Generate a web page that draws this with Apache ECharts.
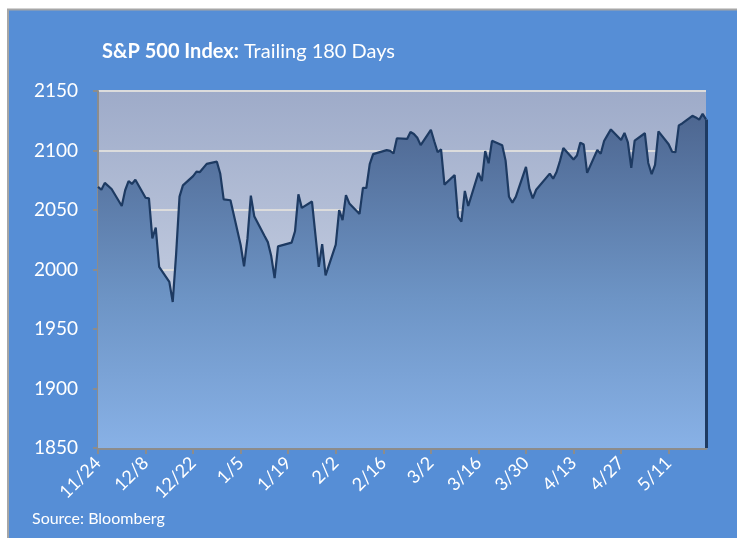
<!DOCTYPE html>
<html>
<head>
<meta charset="utf-8">
<title>S&amp;P 500 Index: Trailing 180 Days</title>
<script src="https://cdn.jsdelivr.net/npm/echarts@6/dist/echarts.min.js"></script>
<style>
  html, body { margin: 0; padding: 0; background: #fff; }
  #chart { width: 737px; height: 538px; }
</style>
</head>
<body>
<div id="chart"></div>
<script>
// trading days shown on the chart (date axis, 180 calendar days)
const startDate = '2014-11-24'
const dates = [
  '2014-11-24', '2014-11-25', '2014-11-26', '2014-11-28',
  '2014-12-01', '2014-12-02', '2014-12-03', '2014-12-04', '2014-12-05', '2014-12-08', '2014-12-09', '2014-12-10',
  '2014-12-11', '2014-12-12', '2014-12-15', '2014-12-16', '2014-12-17', '2014-12-18', '2014-12-19', '2014-12-22',
  '2014-12-23', '2014-12-24', '2014-12-26', '2014-12-29', '2014-12-30', '2014-12-31',
  '2015-01-02', '2015-01-05', '2015-01-06', '2015-01-07', '2015-01-08', '2015-01-09', '2015-01-12', '2015-01-13',
  '2015-01-14', '2015-01-15', '2015-01-16', '2015-01-20', '2015-01-21', '2015-01-22', '2015-01-23', '2015-01-26',
  '2015-01-27', '2015-01-28', '2015-01-29', '2015-01-30',
  '2015-02-02', '2015-02-03', '2015-02-04', '2015-02-05', '2015-02-06', '2015-02-09', '2015-02-10', '2015-02-11',
  '2015-02-12', '2015-02-13', '2015-02-17', '2015-02-18', '2015-02-19', '2015-02-20', '2015-02-23', '2015-02-24',
  '2015-02-25', '2015-02-26', '2015-02-27',
  '2015-03-02', '2015-03-03', '2015-03-04', '2015-03-05', '2015-03-06', '2015-03-09', '2015-03-10', '2015-03-11',
  '2015-03-12', '2015-03-13', '2015-03-16', '2015-03-17', '2015-03-18', '2015-03-19', '2015-03-20', '2015-03-23',
  '2015-03-24', '2015-03-25', '2015-03-26', '2015-03-27', '2015-03-30', '2015-03-31',
  '2015-04-01', '2015-04-02', '2015-04-06', '2015-04-07', '2015-04-08', '2015-04-09', '2015-04-10', '2015-04-13',
  '2015-04-14', '2015-04-15', '2015-04-16', '2015-04-17', '2015-04-20', '2015-04-21', '2015-04-22', '2015-04-23',
  '2015-04-24', '2015-04-27', '2015-04-28', '2015-04-29', '2015-04-30',
  '2015-05-01', '2015-05-04', '2015-05-05', '2015-05-06', '2015-05-07', '2015-05-08', '2015-05-11', '2015-05-12',
  '2015-05-13', '2015-05-14', '2015-05-15', '2015-05-18', '2015-05-19', '2015-05-20', '2015-05-21', '2015-05-22'
]
const closes = [
  2069.4, 2067.0, 2072.8, 2067.6,
  2053.4, 2066.6, 2074.3, 2071.9, 2075.4, 2060.3, 2059.8, 2026.1,
  2035.3, 2002.3, 1989.6, 1972.7, 2012.9, 2061.2, 2070.7, 2078.5,
  2082.2, 2081.9, 2088.8, 2090.6, 2080.4, 2058.9,
  2058.2, 2020.6, 2002.6, 2025.9, 2062.1, 2044.8, 2028.3, 2023.0,
  2011.3, 1992.7, 2019.4, 2022.6, 2032.1, 2063.2, 2051.8, 2057.1,
  2029.6, 2002.2, 2021.3, 1995.0,
  2020.9, 2050.0, 2041.5, 2062.5, 2055.5, 2046.7, 2068.6, 2068.5,
  2088.5, 2097.0, 2100.3, 2099.7, 2097.5, 2110.3, 2109.7, 2115.5,
  2113.9, 2110.7, 2104.5,
  2117.4, 2107.8, 2098.5, 2101.0, 2071.3, 2079.4, 2044.2, 2040.2,
  2066.0, 2053.4, 2081.2, 2074.3, 2099.5, 2089.3, 2108.1, 2104.4,
  2091.5, 2061.1, 2056.2, 2061.0, 2086.2, 2067.9,
  2059.7, 2067.0, 2080.6, 2076.3, 2081.9, 2091.2, 2102.1, 2092.4,
  2095.8, 2106.6, 2105.0, 2081.2, 2100.4, 2097.3, 2108.0, 2112.9,
  2117.7, 2108.9, 2114.8, 2106.9, 2085.5,
  2108.3, 2114.5, 2089.5, 2080.2, 2088.0, 2116.1, 2105.3, 2099.1,
  2098.5, 2121.1, 2122.7, 2129.2, 2127.8, 2125.9, 2130.8, 2126.1
]
// x tick labels, one every 14 days from the start
const tickLabels = ['11/24', '12/8', '12/22', '1/5', '1/19', '2/2', '2/16', '3/2', '3/16', '3/30', '4/13', '4/27', '5/11']
const yTicks = [1850, 1900, 1950, 2000, 2050, 2100, 2150]

const DAY = 86400000
const t0 = Date.parse(startDate)
const dayOf = (d) => Math.round((Date.parse(d) - t0) / DAY)
const seriesData = dates.map((d, i) => [dayOf(d), closes[i]])
const lastDay = dayOf(dates[dates.length - 1])
const tickDays = tickLabels.map((_, i) => i * 14)

const font = 'Lato, "Open Sans", sans-serif'

const chart = echarts.init(document.getElementById('chart'), null, { renderer: 'canvas' })

chart.setOption({
  animation: false,
  backgroundColor: '#ffffff',
  graphic: [
    {
      type: 'rect',
      z: -10,
      silent: true,
      shape: { x: 8, y: 9.5, width: 740, height: 540 },
      style: { fill: '#568ed6', stroke: '#a6a6a6', lineWidth: 2 }
    },
    {
      type: 'text',
      left: 32,
      top: 511,
      style: { text: 'Source: Bloomberg', fill: '#fff', font: '16px ' + font }
    }
  ],
  title: {
    text: '{b|S&P 500 Index:} Trailing 180 Days',
    left: 97,
    top: 37,
    textStyle: {
      color: '#fff',
      fontFamily: font,
      fontSize: 20,
      fontWeight: 'normal',
      rich: {
        b: { color: '#fff', fontFamily: font, fontSize: 20, fontWeight: 'bold' }
      }
    }
  },
  grid: {
    left: 98,
    right: 31,
    top: 91,
    bottom: 90,
    show: true,
    borderWidth: 0,
    backgroundColor: new echarts.graphic.LinearGradient(0, 0, 0, 1, [
      { offset: 0, color: '#9eabc9' },
      { offset: 1, color: '#dbe2ef' }
    ])
  },
  xAxis: {
    type: 'value',
    min: 0,
    max: lastDay,
    interval: 14,
    axisLine: { show: true, lineStyle: { color: '#8c8c8c', width: 3 } },
    axisTick: {
      show: true,
      length: 6,
      customValues: tickDays,
      lineStyle: { color: '#8c8c8c', width: 2 }
    },
    splitLine: { show: false },
    axisLabel: {
      customValues: tickDays,
      rotate: 45,
      margin: 12,
      color: '#fff',
      fontFamily: font,
      fontSize: 18,
      formatter: (v) => tickLabels[Math.round(v / 14)] || ''
    }
  },
  yAxis: {
    type: 'value',
    min: yTicks[0],
    max: yTicks[yTicks.length - 1],
    interval: 50,
    axisLine: { show: true, lineStyle: { color: '#8c8c8c', width: 2 } },
    axisTick: { show: true, length: 5, lineStyle: { color: '#8c8c8c', width: 2 } },
    splitLine: { show: true, lineStyle: { color: '#dcdcdc', width: 2 } },
    axisLabel: {
      margin: 20,
      color: '#fff',
      fontFamily: font,
      fontSize: 19,
      formatter: (v) => String(v)
    }
  },
  series: [
    {
      type: 'line',
      data: seriesData,
      symbol: 'none',
      lineStyle: { color: '#1d3a62', width: 2.2 },
      areaStyle: {
        origin: 'start',
        opacity: 1,
        color: new echarts.graphic.LinearGradient(0, 0, 0, 1, [
          { offset: 0, color: '#4d6690' },
          { offset: 0.55, color: '#6d94c5' },
          { offset: 1, color: '#88b1e6' }
        ])
      },
      markLine: {
        silent: true,
        symbol: 'none',
        label: { show: false },
        lineStyle: { color: '#1d3a62', width: 3, type: 'solid' },
        data: [
          [
            { coord: [lastDay, closes[closes.length - 1]] },
            { coord: [lastDay, yTicks[0]] }
          ]
        ]
      }
    }
  ]
})
</script>
</body>
</html>
